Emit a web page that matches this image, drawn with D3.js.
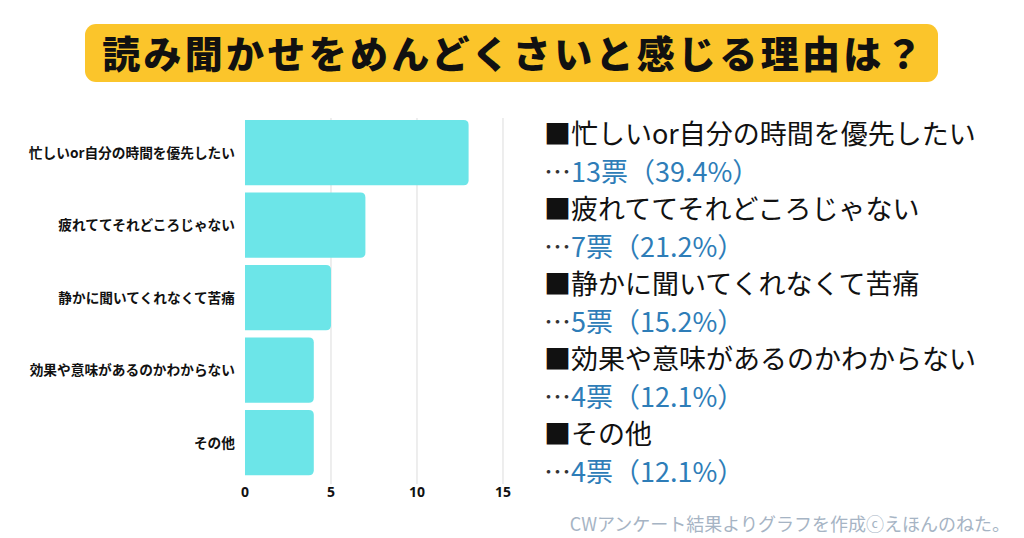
<!DOCTYPE html>
<html><head><meta charset="utf-8">
<script src="https://cdn.jsdelivr.net/npm/d3@7"></script>
<style>
html,body{margin:0;padding:0;background:#fff;}
svg{display:block;}
</style></head>
<body>
<svg id="c" width="1024" height="538"></svg>
<script>
const title = "読み聞かせをめんどくさいと感じる理由は？";
const categories = ["忙しいor自分の時間を優先したい","疲れててそれどころじゃない","静かに聞いてくれなくて苦痛","効果や意味があるのかわからない","その他"];
const votes = [13, 7, 5, 4, 4];
const percents = ["39.4%", "21.2%", "15.2%", "12.1%", "12.1%"];
const ticks = [0, 5, 10, 15];
const footer = "CWアンケート結果よりグラフを作成ⓒえほんのねた。";

const svg = d3.select("#c");
const JP = "'Noto Sans CJK JP','Noto Sans',sans-serif";

// title banner
svg.append("rect").attr("x",85).attr("y",24).attr("width",853).attr("height",58).attr("rx",11)
  .attr("fill","#FBC52B");
svg.append("text").attr("x",514).attr("y",68).attr("text-anchor","middle")
  .attr("font-family",JP).attr("font-weight",900).attr("font-size",38).attr("letter-spacing",3.3).attr("fill","#111")
  .text(title);

// scales
const x = d3.scaleLinear().domain([0,15]).range([245,503]);
const y = d3.scaleBand().domain(categories).range([116.25,478.75]).paddingInner(0.1).paddingOuter(0.05);

// grid
svg.append("g").selectAll("line").data(ticks.filter(t=>t>0)).join("line")
  .attr("x1",d=>x(d)).attr("x2",d=>x(d)).attr("y1",118).attr("y2",484)
  .attr("stroke","#e2e2e2").attr("stroke-width",1.2);

// bars with rounded right corners
function barPath(x0,x1,y0,h,r){
  r=Math.min(r,(x1-x0));
  return `M${x0},${y0}H${x1-r}Q${x1},${y0} ${x1},${y0+r}V${y0+h-r}Q${x1},${y0+h} ${x1-r},${y0+h}H${x0}Z`;
}
svg.append("g").selectAll("path").data(categories).join("path")
  .attr("d",(d,i)=>barPath(x(0),x(votes[i]),y(d),y.bandwidth(),5))
  .attr("fill","#6CE5E8");

// category labels
svg.append("g").selectAll("text").data(categories).join("text")
  .attr("x",235).attr("y",d=>y(d)+y.bandwidth()/2+5).attr("text-anchor","end")
  .attr("font-family",JP).attr("font-weight",700).attr("font-size",13.7).attr("fill","#111")
  .text(d=>d);

// x axis tick labels
svg.append("g").selectAll("text").data(ticks).join("text")
  .attr("x",d=>x(d)).attr("y",497).attr("text-anchor","middle")
  .attr("font-family","'Open Sans','Noto Sans',sans-serif").attr("font-weight",700).attr("font-size",14).attr("fill","#111")
  .text(d=>d);

// right-side annotations
const rg = svg.append("g").attr("font-family",JP).attr("font-size",27);
categories.forEach((c,i)=>{
  const y0 = 144 + i*75;
  rg.append("text").attr("x",544).attr("y",y0).attr("fill","#111").text("■"+c);
  const t = rg.append("text").attr("x",544).attr("y",y0+37.5);
  t.append("tspan").attr("fill","#333").text("…");
  t.append("tspan").attr("fill","#2E7DB8").text(votes[i]+"票（"+percents[i]+"）");
});

// footer
svg.append("text").attr("x",1010).attr("y",531).attr("text-anchor","end")
  .attr("font-family",JP).attr("font-size",18).attr("fill","#A6B4C4")
  .text(footer);
</script>
</body></html>
